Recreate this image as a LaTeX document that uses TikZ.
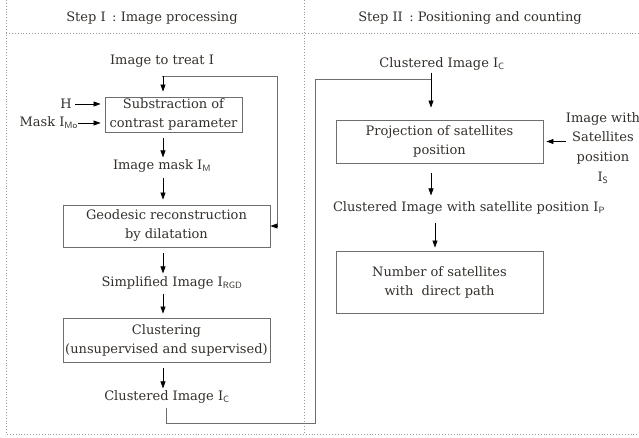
\documentclass[tikz,border=0pt]{standalone}
\usepackage{fontspec}
\setmainfont{DejaVu Serif}
\usetikzlibrary{arrows.meta}
\definecolor{ink}{HTML}{332F2B}
\definecolor{frame}{HTML}{9A9A9A}
\definecolor{edge}{HTML}{6E6E6E}
\newcommand{\idx}[1]{\textsubscript{\sffamily #1}}
\tikzset{
  lbl/.style={text=ink, inner sep=0pt, font=\fontsize{13}{19}\selectfont, align=center},
  stagebox/.style={draw=edge, line width=0.9pt, text=ink, inner sep=0pt,
    font=\fontsize{13}{19}\selectfont, align=center},
  arr/.style={draw=black, line width=0.6pt, -{Triangle[length=7pt,width=5pt]}},
  loopline/.style={draw=edge, line width=0.9pt},
  sep/.style={draw=frame, line width=0.9pt, dotted},
}
\begin{document}
\begin{tikzpicture}[x=1pt,y=-1pt]
\useasboundingbox (0,0) rectangle (639,438);
% panel frame
\draw[sep] (6,0) -- (6,434) -- (639,434);
\draw[sep] (6,33) -- (639,33);
\draw[sep] (304,0) -- (304,434);
% headers
\node[lbl] (headA) at (152,18) {Step I\enspace: Image processing};
\node[lbl] (headB) at (470,18) {Step II\enspace: Positioning and counting};

% Step I
\node[lbl] (img) at (162,61) {Image to treat I};
\node[stagebox, minimum width=137pt, minimum height=35pt] (sub) at (173.5,114.5)
  {Substraction of\\contrast parameter};
\node[lbl] (h) at (66,104) {H};
\node[lbl, anchor=east] (mask) at (78,123) {Mask I\idx{Mo}};
\node[lbl] (imask) at (162,166) {Image mask I\idx{M}};
\node[stagebox, minimum width=207pt, minimum height=42pt] (geo) at (166.5,226)
  {Geodesic reconstruction\\by dilatation};
\node[lbl] (simp) at (172,283) {Simplified Image I\idx{RGD}};
\node[stagebox, minimum width=207pt, minimum height=44pt] (clu) at (166.5,340)
  {Clustering\\(unsupervised and supervised)};
\node[lbl] (cimA) at (167,397) {Clustered Image I\idx{C}};

\coordinate (br) at (163,76);
\coordinate (loopR) at (277,76);
\draw[loopline] (img.south |- br) -- (loopR) -- (loopR |- geo.east);
\draw[arr, draw=black] (loopR |- geo.east) -- (geo.east);
\draw[arr, shorten >=5pt] (br) -- (br |- sub.north);
\draw[arr, shorten <=3pt, shorten >=4pt] (h.east) -- (h.east -| sub.west);
\draw[arr, shorten <=0pt, shorten >=4pt] (mask.east) -- (mask.east -| sub.west);
\draw[arr, shorten <=6pt, shorten >=2pt] (sub.south -| br) -- (imask.north -| br);
\draw[arr, shorten <=5pt, shorten >=5pt] (imask.south -| br) -- (geo.north -| br);
\draw[arr, shorten <=6pt, shorten >=3pt] (geo.south -| br) -- (simp.north -| br);
\draw[arr, shorten <=4pt, shorten >=4pt] (simp.south -| br) -- (clu.north -| br);
\draw[arr, shorten <=6pt, shorten >=2pt] (clu.south -| br) -- (cimA.north -| br);

% Step II
\node[lbl] (cimB) at (442,64) {Clustered Image I\idx{C}};
\node[stagebox, minimum width=207pt, minimum height=43pt] (proj) at (439.5,141.5)
  {Projection of satellites\\position};
\node[lbl, font=\fontsize{13}{19.7}\selectfont] (sat) at (603,148)
  {Image with\\Satellites\\position\\I\idx{S}};
\node[lbl] (cip) at (469,208) {Clustered Image with satellite position I\idx{P}};
\node[stagebox, minimum width=207pt, minimum height=62pt] (num) at (439.5,282)
  {Number of satellites\\with\ \ direct path};

\coordinate (lowA) at (166,423);
\coordinate (riseB) at (315,423);
\coordinate (topB) at (315,79);
\coordinate (dropB) at (431,79);
\draw[loopline] (cimA.south -| lowA) ++(0,4) -- (lowA) -- (riseB) -- (topB) -- (dropB);
\draw[arr, shorten <=2pt, shorten >=12pt] (cimB.south -| dropB) -- (proj.north -| dropB);
\draw[arr, shorten >=3pt] (sat.west |- proj.east) -- (proj.east);
\draw[arr, shorten <=10pt, shorten >=6pt] (proj.south -| dropB) -- (cip.north -| dropB);
\draw[arr, shorten <=8pt, shorten >=3pt] (cip.south -| 435,0) -- (num.north -| 435,0);
\end{tikzpicture}
\end{document}
